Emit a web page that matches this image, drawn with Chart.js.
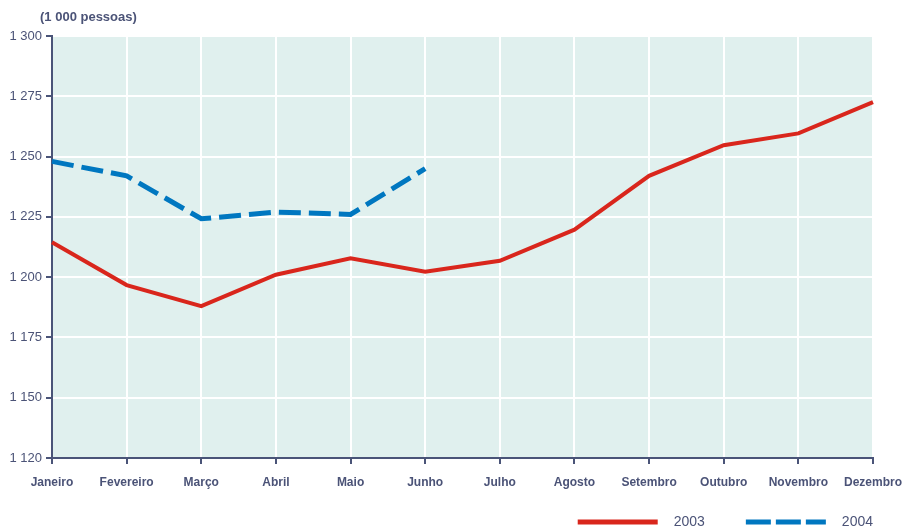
<!DOCTYPE html>
<html>
<head>
<meta charset="utf-8">
<script src="https://cdn.jsdelivr.net/npm/chart.js@4/dist/chart.umd.min.js"></script>
<style>
  html, body { margin: 0; padding: 0; background: #fff; }
  #wrap { width: 902px; height: 528px; position: relative; }
</style>
</head>
<body>
<div id="wrap"><canvas id="chart" width="902" height="528"></canvas></div>
<script>
const months = ['Janeiro', 'Fevereiro', 'Março', 'Abril', 'Maio', 'Junho',
  'Julho', 'Agosto', 'Setembro', 'Outubro', 'Novembro', 'Dezembro'];
const values2003 = [1214.5, 1196.7, 1188, 1201, 1207.8, 1202.2, 1206.8, 1219.7, 1242, 1254.7, 1259.6, 1272.6];
const values2004 = [1248, 1242, 1224.2, 1227, 1226, 1245];
const yTicks = [1125, 1150, 1175, 1200, 1225, 1250, 1275, 1300];
const yTickLabels = ['1 120', '1 150', '1 175', '1 200', '1 225', '1 250', '1 275', '1 300'];

const TEXT = '#4b5377';
const AXIS = '#4a5478';
const FONT = '"Liberation Sans", Arial, sans-serif';

const plotBg = {
  id: 'plotBg',
  beforeDraw(chart) {
    const a = chart.chartArea, ctx = chart.ctx;
    ctx.save();
    ctx.fillStyle = '#e0f0ee';
    ctx.fillRect(a.left, a.top, a.right - a.left, a.bottom - a.top);
    ctx.restore();
  }
};

const unitLabel = {
  id: 'unitLabel',
  afterDraw(chart) {
    const ctx = chart.ctx;
    ctx.save();
    ctx.fillStyle = TEXT;
    ctx.font = 'bold 13px ' + FONT;
    ctx.textBaseline = 'middle';
    ctx.fillText('(1 000 pessoas)', 40, 17);
    ctx.restore();
  }
};

// legend along the bottom edge, right-aligned to the plot, line sample then label
const bottomLegend = {
  id: 'bottomLegend',
  afterDraw(chart) {
    const ctx = chart.ctx;
    const y = 522;
    ctx.save();
    ctx.font = '14px ' + FONT;
    ctx.textBaseline = 'middle';
    let right = chart.chartArea.right;
    const sets = chart.data.datasets.slice().reverse();
    sets.forEach(ds => {
      const tw = ctx.measureText(ds.label).width;
      const textX = right - tw;
      const lineEnd = textX - 16;
      const lineStart = lineEnd - 80;
      ctx.fillStyle = TEXT;
      ctx.fillText(ds.label, textX, y);
      ctx.strokeStyle = ds.borderColor;
      ctx.lineWidth = 5;
      ctx.setLineDash(ds.borderDash ? [25, 5] : []);
      ctx.beginPath();
      ctx.moveTo(lineStart, y);
      ctx.lineTo(lineEnd, y);
      ctx.stroke();
      right = lineStart - 41;
    });
    ctx.restore();
  }
};

new Chart(document.getElementById('chart'), {
  type: 'line',
  data: {
    labels: months,
    datasets: [
      {
        label: '2003',
        data: values2003,
        borderColor: '#d9261c',
        backgroundColor: '#d9261c',
        borderWidth: 4,
        pointRadius: 0,
        tension: 0
      },
      {
        label: '2004',
        data: values2004,
        borderColor: '#0077c0',
        backgroundColor: '#0077c0',
        borderWidth: 5,
        borderDash: [22, 8],
        pointRadius: 0,
        tension: 0
      }
    ]
  },
  options: {
    responsive: false,
    animation: false,
    layout: { padding: { top: 36, left: 0, right: 0, bottom: 30 } },
    plugins: {
      tooltip: { enabled: false },
      legend: { display: false }
    },
    scales: {
      x: {
        offset: false,
        grid: { color: '#ffffff', lineWidth: 2, tickColor: AXIS, tickLength: 6, tickWidth: 2 },
        border: { color: AXIS, width: 2 },
        ticks: {
          color: TEXT,
          font: { family: '"Liberation Sans Narrow", ' + FONT, size: 12, weight: 'bold' },
          maxRotation: 0,
          autoSkip: false,
          padding: 11
        },
        afterFit(scale) {
          scale.height = 40;
          scale.paddingLeft = 0;
          scale.paddingRight = 29;
        }
      },
      y: {
        min: 1125,
        max: 1300,
        grid: { color: '#ffffff', lineWidth: 2, tickColor: AXIS, tickLength: 6, tickWidth: 2 },
        border: { color: AXIS, width: 2 },
        afterBuildTicks(scale) { scale.ticks = yTicks.map(v => ({ value: v })); },
        ticks: {
          color: TEXT,
          font: { family: FONT, size: 13 },
          padding: 4,
          callback: (v) => yTickLabels[yTicks.indexOf(v)]
        },
        afterFit(scale) { scale.width = 52; }
      }
    }
  },
  plugins: [plotBg, unitLabel, bottomLegend]
});
</script>
</body>
</html>
